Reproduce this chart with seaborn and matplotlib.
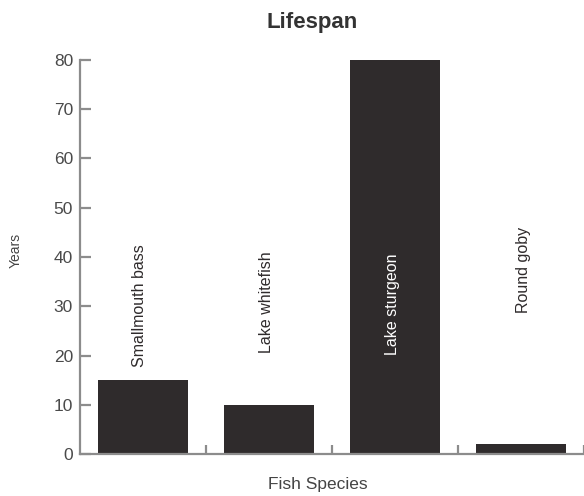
import matplotlib
matplotlib.use("Agg")
import matplotlib.pyplot as plt
import seaborn as sns
import pandas as pd

species = ["Smallmouth bass", "Lake whitefish", "Lake sturgeon", "Round goby"]
years = [15, 10, 80, 2]
yticks = [0, 10, 20, 30, 40, 50, 60, 70, 80]

sns.set_style("white")
plt.rcParams["font.family"] = ["Liberation Sans", "DejaVu Sans"]

df = pd.DataFrame({"species": species, "years": years})

fig = plt.figure(figsize=(5.84, 4.96), dpi=100)
ax = fig.add_axes([80 / 584, 42 / 496, 504 / 584, 394 / 496])

bar_color = "#2f2b2c"
axis_color = "#8c8c8c"

sns.barplot(data=df, x="species", y="years", color=bar_color, width=0.714,
            saturation=1, ax=ax, edgecolor="none")

ax.set_xlim(-0.5, 3.5)
ax.set_ylim(0, 80)
ax.set_yticks(yticks)
ax.set_yticklabels([str(t) for t in yticks])
ax.set_xticks([0.5, 1.5, 2.5, 3.5])
ax.set_xticklabels([])

for s in ["top", "right"]:
    ax.spines[s].set_visible(False)
for s in ["left", "bottom"]:
    ax.spines[s].set_color(axis_color)
    ax.spines[s].set_linewidth(1.6)

ax.tick_params(axis="y", direction="in", length=8, width=1.6, color=axis_color,
               labelsize=12.5, labelcolor="#4a4a4a", pad=5, left=True)
ax.tick_params(axis="x", direction="in", length=6.5, width=1.6, color=axis_color,
               bottom=True)

# rotated category labels above / inside bars
label_pos = [17.7, 20.5, 20.1, 28.6]
label_dx = [-0.03, -0.02, -0.02, 0.02]
label_col = ["#2f2b2c", "#2f2b2c", "white", "#2f2b2c"]
for i, name in enumerate(species):
    ax.text(i + label_dx[i], label_pos[i], name, rotation=90, ha="center",
            va="bottom", fontsize=11.5, color=label_col[i])

ax.set_title("Lifespan", x=(312 - 80) / 504, y=1 + (60 - 28) / 394, pad=0,
             fontsize=16, fontweight="bold", color="#333333", va="baseline")
ax.set_xlabel("Fish Species", fontsize=12.5, color="#444444")
ax.xaxis.set_label_coords((318 - 80) / 504, (454 - 477) / 394)
ax.set_ylabel("Years", fontsize=10, color="#444444")
ax.yaxis.set_label_coords((23 - 80) / 504, (454 - 250) / 394)

fig.savefig("out.png", dpi=100)
